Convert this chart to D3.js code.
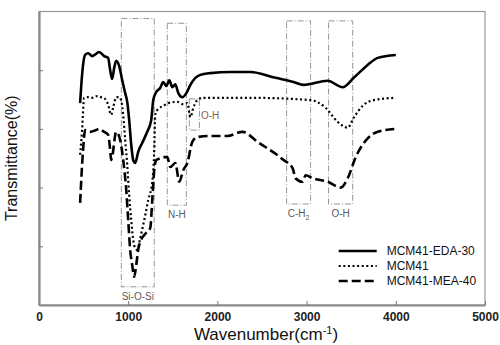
<!DOCTYPE html>
<html>
<head>
<meta charset="utf-8">
<script src="https://cdn.jsdelivr.net/npm/d3@7"></script>
<style>
  body { margin: 0; background: #fff; }
  svg text { font-family: "Liberation Sans", Arial, sans-serif; }
</style>
</head>
<body>
<div id="chart"></div>
<script>
var svgWidth = 500;
var svgHeight = 345;

var margin = { top: 11.5, right: 15, bottom: 40, left: 39 };
var width = svgWidth - margin.left - margin.right;
var height = svgHeight - margin.top - margin.bottom;

// [wavenumber, transmittance (arb.)]
var edaData = [[461,3.44],[483,3.92],[517,4.26],[551,4.29],[596,4.24],[640,4.28],[674,4.31],[730,4.24],[775,4.21],[798,4.00],[820,3.85],[843,4.04],[865,4.16],[899,4.07],[933,3.83],[966,3.61],[989,3.46],[1011,3.15],[1034,2.73],[1056,2.47],[1079,2.42],[1112,2.61],[1157,2.76],[1213,2.95],[1258,3.15],[1281,3.49],[1315,3.63],[1360,3.70],[1393,3.80],[1427,3.73],[1461,3.83],[1494,3.71],[1528,3.76],[1562,3.61],[1607,3.54],[1652,3.61],[1697,3.75],[1753,3.87],[1809,3.92],[1921,3.95],[2146,3.97],[2371,3.97],[2652,3.87],[2854,3.80],[2966,3.75],[3236,3.82],[3404,3.71],[3528,3.87],[3685,4.09],[3798,4.21],[4000,4.26]];

var mcmData = [[461,2.56],[483,2.98],[506,3.53],[551,3.54],[607,3.53],[652,3.56],[697,3.54],[742,3.51],[775,3.41],[809,3.24],[831,3.36],[865,3.54],[899,3.54],[921,3.49],[944,3.24],[966,2.81],[989,2.39],[1011,1.87],[1034,1.45],[1056,1.11],[1079,0.97],[1101,0.94],[1135,1.14],[1180,1.45],[1225,1.79],[1270,2.10],[1292,2.64],[1303,3.24],[1337,3.34],[1393,3.39],[1449,3.44],[1551,3.46],[1618,3.42],[1663,3.44],[1697,3.20],[1730,3.36],[1775,3.49],[1843,3.53],[2371,3.53],[3045,3.49],[3213,3.36],[3348,3.12],[3461,3.02],[3528,3.19],[3640,3.41],[3753,3.49],[4000,3.53]];

var meaData = [[461,1.74],[494,2.64],[517,2.98],[573,2.95],[640,2.98],[674,3.00],[730,2.95],[775,2.90],[798,2.64],[809,2.47],[820,2.52],[865,2.95],[910,2.81],[944,2.47],[978,1.96],[1000,1.45],[1022,0.94],[1045,0.68],[1067,0.48],[1090,0.68],[1112,0.94],[1146,1.11],[1202,1.23],[1247,1.31],[1270,1.79],[1292,2.30],[1315,2.47],[1360,2.50],[1393,2.52],[1438,2.52],[1472,2.35],[1528,2.42],[1573,2.10],[1618,2.30],[1663,2.42],[1719,2.78],[1775,2.86],[1899,2.88],[2112,2.88],[2281,2.95],[2449,2.78],[2742,2.47],[2843,2.33],[2876,2.16],[2955,2.10],[2989,2.21],[3067,2.16],[3236,2.10],[3382,2.00],[3461,2.16],[3551,2.52],[3685,2.84],[3798,2.95],[4000,3.00]];

var xTicks = [0, 1000, 2000, 3000, 4000, 5000];
var yTicks = [1, 2, 3, 4];

// band boxes: [x0, x1, tTop, tBottom]
var bandLabels = ["Si-O-Si", "N-H", "O-H", "C-H2", "O-H"];
var bandRanges = [[923, 1292, 4.88, 0.31], [1438, 1652, 4.80, 1.70], [1685, 1798, 3.51, 2.98], [2776, 3045, 4.84, 1.72], [3246, 3517, 4.84, 1.72]];

var series = [
  { name: "MCM41-EDA-30", values: edaData, dash: null, width: 2.6 },
  { name: "MCM41", values: mcmData, dash: "2,2.6", width: 2.2 },
  { name: "MCM41-MEA-40", values: meaData, dash: "9,4", width: 2.6 }
];

var svg = d3.select("#chart")
  .append("svg")
  .attr("width", svgWidth)
  .attr("height", svgHeight);

var chartGroup = svg.append("g")
  .attr("transform", `translate(${margin.left}, ${margin.top})`);

var xScale = d3.scaleLinear().domain([0, 5000]).range([0, width]);
var yScale = d3.scaleLinear().domain([0, 5]).range([height, 0]);

// frame (top/right)
chartGroup.append("rect")
  .attr("width", width)
  .attr("height", height)
  .attr("fill", "none")
  .attr("stroke", "#9a9a9a")
  .attr("stroke-width", 1.2);

// band boxes
bandRanges.forEach(function(b, i) {
  var x0 = xScale(b[0]), x1 = xScale(b[1]);
  var y0 = yScale(b[2]), y1 = yScale(b[3]);
  chartGroup.append("rect")
    .attr("x", x0).attr("y", y0)
    .attr("width", x1 - x0).attr("height", y1 - y0)
    .attr("fill", "none")
    .attr("stroke", "#8a8a8a")
    .attr("stroke-width", 0.9)
    .attr("stroke-dasharray", "6,2,1,2");

  var t = chartGroup.append("text")
    .style("font-size", "10px")
    .style("fill", i == 2 ? "#8b5e45" : "#5a5a5a");
  if (i == 2) {
    t.attr("x", x1 + 1.5).attr("y", (y0 + y1) / 2 + 4).attr("text-anchor", "start");
  } else {
    t.attr("x", (x0 + x1) / 2).attr("y", y1 + 13).attr("text-anchor", "middle");
  }
  if (bandLabels[i] == "C-H2") {
    t.text("C-H");
    t.append("tspan").attr("dy", 3).style("font-size", "7px").text("2");
  } else {
    t.text(bandLabels[i]);
  }
});

// axes
var bottomAxis = d3.axisBottom(xScale).tickValues(xTicks).tickFormat(d3.format("d"))
  .tickSizeInner(-4).tickSizeOuter(0).tickPadding(7);
var leftAxis = d3.axisLeft(yScale).tickValues(yTicks).tickSizeInner(-4).tickSizeOuter(0).tickFormat("");

var xAxisG = chartGroup.append("g")
  .attr("transform", `translate(0, ${height})`)
  .call(bottomAxis);
xAxisG.selectAll("text").style("font-size", "12px").style("fill", "#222").style("font-weight", "bold");

var yAxisG = chartGroup.append("g").call(leftAxis);

[xAxisG, yAxisG].forEach(function(g) {
  g.select(".domain").attr("stroke", "#8a8a8a").attr("stroke-width", 2.2);
  g.selectAll(".tick line").attr("stroke", "#777").attr("stroke-width", 1);
});

// lines
var line = d3.line()
  .x(d => xScale(d[0]))
  .y(d => yScale(d[1]))
  .curve(d3.curveMonotoneX);

series.forEach(function(s) {
  chartGroup.append("path")
    .datum(s.values)
    .attr("fill", "none")
    .attr("stroke", "#000")
    .attr("stroke-width", s.width)
    .attr("stroke-linejoin", "round")
    .attr("stroke-dasharray", s.dash)
    .attr("d", line);
});

// legend
var legend = chartGroup.append("g")
  .attr("transform", `translate(${xScale(3360)}, ${yScale(0.92)})`);

series.forEach(function(s, i) {
  var row = legend.append("g").attr("transform", `translate(0, ${i * 15})`);
  row.append("line")
    .attr("x1", 0).attr("x2", 38)
    .attr("stroke", "#000")
    .attr("stroke-width", s.width)
    .attr("stroke-dasharray", s.dash);
  row.append("text")
    .attr("x", 48).attr("y", 4.5)
    .style("font-size", "12px")
    .style("fill", "#111")
    .text(s.name);
});

// axis labels
chartGroup.append("text")
  .attr("transform", "rotate(-90)")
  .attr("x", -height / 2)
  .attr("y", -22)
  .attr("text-anchor", "middle")
  .style("font-size", "16px")
  .style("fill", "#111")
  .text("Transmittance(%)");

var xLabel = chartGroup.append("text")
  .attr("x", width / 2 + 4)
  .attr("y", height + 35)
  .attr("text-anchor", "middle")
  .style("font-size", "17px")
  .style("fill", "#111")
  .text("Wavenumber(cm");
xLabel.append("tspan").attr("dy", -6).style("font-size", "11px").text("-1");
xLabel.append("tspan").attr("dy", 6).text(")");
</script>
</body>
</html>
